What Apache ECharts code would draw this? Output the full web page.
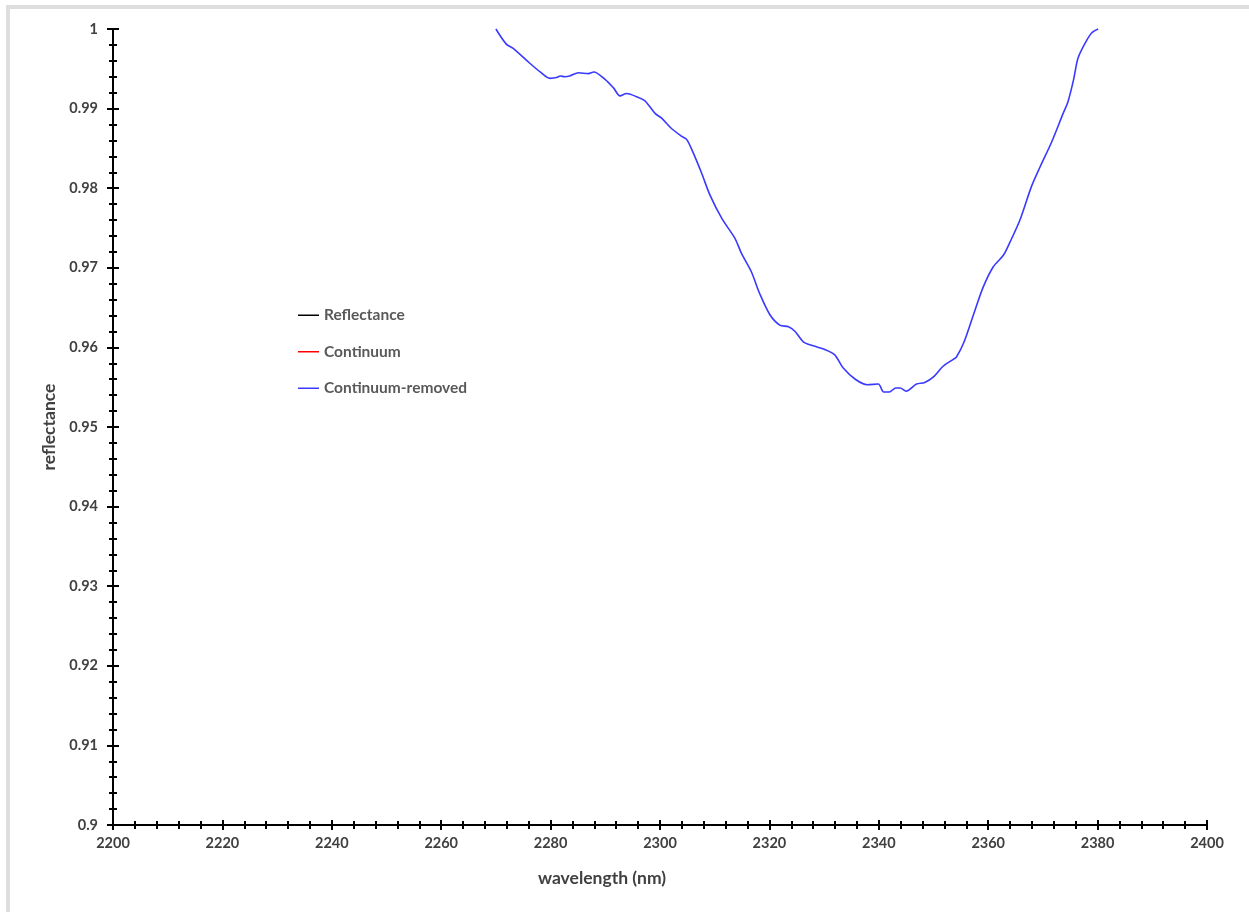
<!DOCTYPE html>
<html>
<head>
<meta charset="utf-8">
<script src="https://cdn.jsdelivr.net/npm/echarts@6/dist/echarts.min.js"></script>
<style>
html,body{margin:0;padding:0;background:#fff;}
#chart{width:1249px;height:912px;}
</style>
</head>
<body>
<div id="chart"></div>
<script>
// wavelength (nm) of the continuum-removed curve
var wavelengths = [
  2270.0, 2271.9, 2273.1, 2276.2, 2278.1, 2279.9, 2281.1, 2281.8, 2282.6, 2283.5,
  2285.1, 2286.9, 2287.9, 2289.9, 2291.5, 2292.7, 2293.9, 2295.7, 2297.2, 2299.1,
  2300.3, 2302.1, 2304.0, 2304.9, 2306.1, 2307.6, 2309.1, 2311.3, 2313.7, 2314.9,
  2316.7, 2318.2, 2320.1, 2321.9, 2323.5, 2324.7, 2326.2, 2328.0, 2329.9, 2331.9,
  2333.5, 2335.7, 2337.9, 2339.9, 2340.9, 2341.9, 2343.1, 2343.9, 2345.0, 2346.9,
  2348.4, 2350.0, 2351.7, 2353.6, 2354.2, 2355.6, 2357.6, 2359.1, 2360.9, 2362.8,
  2363.9, 2365.8, 2367.9, 2369.5, 2371.6, 2373.7, 2374.6, 2375.6, 2376.4, 2377.7,
  2378.9, 2380.1
];
// continuum-removed reflectance values
var continuumRemoved = [
  1.0000, 0.9981, 0.9976, 0.9957, 0.9946, 0.9938, 0.9939, 0.9941, 0.9940, 0.9941,
  0.9945, 0.9944, 0.9946, 0.9937, 0.9926, 0.9916, 0.9919, 0.9915, 0.9910, 0.9894,
  0.9888, 0.9875, 0.9865, 0.9861, 0.9844, 0.9819, 0.9792, 0.9762, 0.9737, 0.9718,
  0.9695, 0.9668, 0.9641, 0.9628, 0.9626, 0.9620, 0.9607, 0.9602, 0.9598, 0.9591,
  0.9574, 0.9560, 0.9553, 0.9554, 0.9544, 0.9544, 0.9549, 0.9549, 0.9545, 0.9554,
  0.9556, 0.9563, 0.9576, 0.9585, 0.9588, 0.9607, 0.9647, 0.9676, 0.9701, 0.9716,
  0.9731, 0.9760, 0.9802, 0.9827, 0.9858, 0.9894, 0.9909, 0.9936, 0.9963, 0.9982,
  0.9995, 1.0000
];
// Reflectance and Continuum series carry no visible points in this view
var reflectance = [];
var continuum = [];
var seriesNames = ['Reflectance', 'Continuum', 'Continuum-removed'];
var xTickLabels = ['2200','2220','2240','2260','2280','2300','2320','2340','2360','2380','2400'];
var yTickLabels = ['0.9','0.91','0.92','0.93','0.94','0.95','0.96','0.97','0.98','0.99','1'];

var FONT = 'Lato, "Liberation Sans", sans-serif';
var chart = echarts.init(document.getElementById('chart'), null, {renderer: 'canvas'});

function xFmt(v){ var i = Math.round((v - 2200) / 20); return xTickLabels[i] || ''; }
function yFmt(v){ var i = Math.round((v - 0.9) / 0.01); return yTickLabels[i] || ''; }

var commonX = {type: 'value', min: 2200, max: 2400, interval: 20, splitLine: {show: false}};
var commonY = {type: 'value', min: 0.9, max: 1.0, interval: 0.01, splitLine: {show: false}};

var option = {
  backgroundColor: '#ffffff',
  animation: false,
  grid: {left: 113, right: 42, top: 29, bottom: 87, containLabel: false},
  legend: {
    orient: 'vertical',
    left: 293,
    top: 302,
    icon: 'rect',
    itemWidth: 21,
    itemHeight: 1.5,
    itemGap: 20,
    data: seriesNames,
    textStyle: {color: '#595959', fontFamily: FONT, fontWeight: 'bold', fontSize: 15.5, lineHeight: 16.5}
  },
  xAxis: [
    Object.assign({}, commonX, {
      position: 'bottom',
      axisLine: {show: true, onZero: false, lineStyle: {color: '#000', width: 2}},
      axisTick: {show: true, inside: false, length: 5, lineStyle: {color: '#000', width: 2}},
      minorTick: {show: true, splitNumber: 5, length: 4, lineStyle: {color: '#000', width: 2}},
      axisLabel: {show: true, margin: 11, color: '#404040', fontFamily: FONT, fontWeight: 'bold', fontSize: 14.5, formatter: xFmt}
    }),
    Object.assign({}, commonX, {
      position: 'bottom',
      axisLine: {show: false, onZero: false},
      axisTick: {show: true, inside: true, length: 5, lineStyle: {color: '#000', width: 2}},
      minorTick: {show: true, splitNumber: 5, length: 4, lineStyle: {color: '#000', width: 2}},
      axisLabel: {show: false}
    })
  ],
  yAxis: [
    Object.assign({}, commonY, {
      position: 'left',
      name: 'reflectance',
      nameLocation: 'middle',
      nameGap: 55,
      nameTextStyle: {color: '#404040', fontFamily: FONT, fontWeight: 'bold', fontSize: 17.5},
      axisLine: {show: true, onZero: false, lineStyle: {color: '#000', width: 2}},
      axisTick: {show: true, inside: false, length: 6, lineStyle: {color: '#000', width: 2}},
      minorTick: {show: true, splitNumber: 5, length: 4, lineStyle: {color: '#000', width: 2}},
      axisLabel: {show: true, margin: 15, color: '#404040', fontFamily: FONT, fontWeight: 'bold', fontSize: 14.5, formatter: yFmt}
    }),
    Object.assign({}, commonY, {
      position: 'left',
      axisLine: {show: false, onZero: false},
      axisTick: {show: true, inside: true, length: 6, lineStyle: {color: '#000', width: 2}},
      minorTick: {show: true, splitNumber: 5, length: 4, lineStyle: {color: '#000', width: 2}},
      axisLabel: {show: false}
    })
  ],
  graphic: [
    {type: 'rect', left: 6, top: 5, shape: {width: 4, height: 907}, style: {fill: '#dedede'}, silent: true},
    {type: 'rect', left: 6, top: 5, shape: {width: 1243, height: 4}, style: {fill: '#dedede'}, silent: true},
    {type: 'text', left: 538, top: 869, style: {text: 'wavelength (nm)', fill: '#404040', font: 'bold 17.5px ' + FONT}, silent: true}
  ],
  series: [
    {name: seriesNames[0], type: 'line', xAxisIndex: 0, yAxisIndex: 0, data: reflectance, showSymbol: false, symbol: 'none', color: '#000000', lineStyle: {color: '#000000', width: 1.5}},
    {name: seriesNames[1], type: 'line', xAxisIndex: 0, yAxisIndex: 0, data: continuum, showSymbol: false, symbol: 'none', color: '#ff0000', lineStyle: {color: '#ff0000', width: 1.5}},
    {name: seriesNames[2], type: 'line', xAxisIndex: 0, yAxisIndex: 0,
     data: wavelengths.map(function(w, i){ return [w, continuumRemoved[i]]; }),
     showSymbol: false, symbol: 'none', smooth: 0.3, clip: false,
     color: '#3a3aff', lineStyle: {color: '#3a3aff', width: 1.6}}
  ]
};
chart.setOption(option);
</script>
</body>
</html>
